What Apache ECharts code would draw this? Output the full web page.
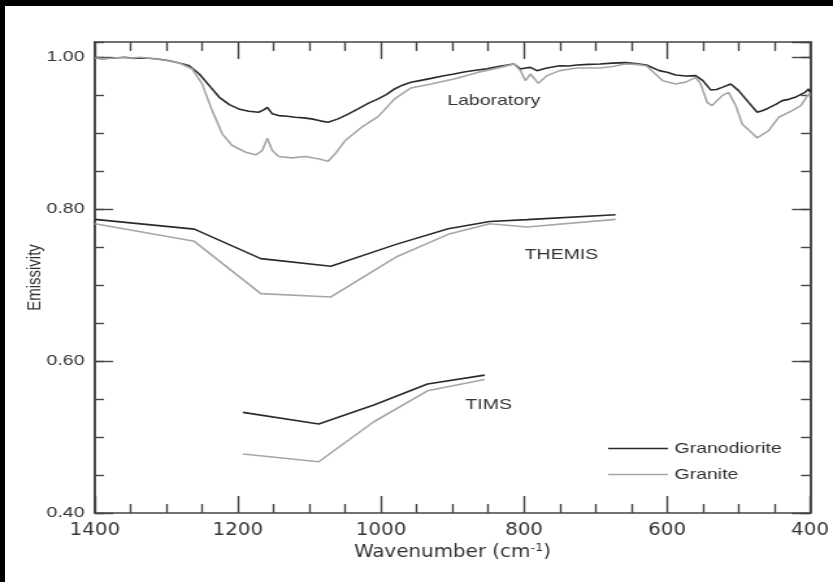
<!DOCTYPE html>
<html>
<head>
<meta charset="utf-8">
<script src="https://cdn.jsdelivr.net/npm/echarts@6/dist/echarts.min.js"></script>
<style>
  html, body { margin:0; padding:0; background:#000; width:833px; height:582px; overflow:hidden; }
  #paper { position:absolute; left:5px; top:6px; right:0; bottom:0; background:#fff; }
  #chart { position:absolute; left:0; top:0; width:641px; height:582px; transform-origin:0 0; transform:scaleX(1.2995); }
</style>
</head>
<body>
<div id="paper"></div>
<div id="chart"></div>
<script>
// ---- Laboratory spectra ----
const labWaveGrd = [1400,1390,1379,1368,1358,1348,1338,1324,1310,1296,1282,1268,1254,1240,1226,1212,1199,1185,1171,1164,1159,1152,1143,1131,1120,1108,1097,1085,1074,1060,1046,1032,1018,1004,992,981,970,958,944,930,914,898,882,865,852,838,826,814,805,798,791,782,768,750,738,726,710,694,676,659,644,629,611,600,588,574,560,550,539,531,523,511,500,486,474,466,458,448,439,430,421,413,407,402,400];
const labEmisGrd = [0.999,0.998,0.9987,0.9992,1.000,0.9985,0.999,0.9987,0.9974,0.9954,0.9924,0.9888,0.9779,0.9625,0.9472,0.9376,0.9319,0.9288,0.9275,0.9306,0.934,0.9254,0.9231,0.9222,0.9209,0.9201,0.9188,0.9162,0.9143,0.9188,0.925,0.9319,0.9392,0.9451,0.951,0.9582,0.9632,0.9669,0.9695,0.9721,0.9752,0.9779,0.9808,0.9832,0.9846,0.9875,0.9892,0.9911,0.9845,0.9858,0.9866,0.9823,0.9858,0.9888,0.9885,0.9898,0.9905,0.9911,0.9922,0.9928,0.9915,0.9898,0.9823,0.9801,0.9766,0.9752,0.9757,0.9691,0.9569,0.9575,0.9603,0.9648,0.956,0.9406,0.9275,0.9298,0.9332,0.9378,0.9428,0.9445,0.9472,0.951,0.9537,0.9582,0.9537];
const labWaveGra = [1400,1390,1379,1368,1358,1348,1338,1324,1310,1296,1282,1264,1250,1236,1222,1208,1189,1175,1166,1159,1152,1143,1125,1106,1088,1074,1064,1050,1027,1004,981,958,930,898,865,833,814,805,798,791,780,768,750,726,694,676,659,644,629,606,588,574,560,553,544,537,523,514,504,495,474,458,444,425,413,402,400];
const labEmisGra = [0.999,0.9982,0.9987,0.9993,0.9993,0.9986,1.000,0.9985,0.997,0.995,0.9924,0.9845,0.9648,0.9297,0.8991,0.8837,0.8749,0.8715,0.8771,0.8933,0.8771,0.8693,0.8675,0.8693,0.8662,0.8631,0.8728,0.8903,0.9078,0.9218,0.9451,0.9595,0.9648,0.9714,0.98,0.9866,0.9911,0.9823,0.9691,0.9779,0.9656,0.9757,0.9823,0.9858,0.9858,0.9878,0.9911,0.9905,0.9888,0.9691,0.9648,0.9672,0.9735,0.9648,0.9406,0.9363,0.9494,0.9537,0.9363,0.9122,0.8938,0.9034,0.9209,0.9297,0.9362,0.9516,0.9494];
// ---- THEMIS ----
const themisWave = [1400,1261,1168,1070,979,906,848,796,672];
const themisEmisGrd = [0.7865,0.7737,0.7348,0.7247,0.7536,0.7742,0.7838,0.7862,0.7926];
const themisEmisGra = [0.7808,0.7576,0.6888,0.6844,0.7369,0.7668,0.7808,0.7764,0.7865];
// ---- TIMS ----
const timsWave = [1193,1087,1010,935,855];
const timsEmisGrd = [0.5325,0.5171,0.5421,0.5697,0.5815];
const timsEmisGra = [0.4777,0.4675,0.5201,0.5608,0.5758];
// ---- axes ----
const xMin = 400, xMax = 1400, xStep = 200;
const yMin = 0.40, yMax = 1.02, yStep = 0.2, yMinorStep = 0.05;
const seriesNames = ['Granodiorite', 'Granite'];
const sectionLabels = ['Laboratory', 'THEMIS', 'TIMS'];

const zip = (a, b) => a.map((v, i) => [v, b[i]]);
const DARK = '#2a2a2a', GRAY = '#a6a6a6', AX = '#444';
const SANS = '"Liberation Sans", Arial, Helvetica, sans-serif';
const NARROW = '"Liberation Sans Narrow", "DejaVu Sans Condensed", sans-serif';

function line(name, data, color) {
  return { type:'line', name, data, symbol:'none', xAxisIndex:0, yAxisIndex:0,
    lineStyle:{ color, width:1.6 }, itemStyle:{ color }, animation:false, z:3 };
}

const axLine = { show:true, lineStyle:{ color:AX, width:1.6 } };
function yAx(pos, step, len, labels) {
  return { type:'value', position:pos, min:yMin, max:yMax, interval:step,
    axisLine: axLine, axisTick:{ show:true, inside:true, length:len, lineStyle:{ color:AX, width:1.4 } },
    axisLabel: labels ? { show:true, formatter:v => v.toFixed(2), showMaxLabel:false, margin:8, fontSize:15, color:'#333', fontFamily:SANS } : { show:false },
    splitLine:{ show:false } };
}
function xAx(pos, labels) {
  const a = { type:'value', position:pos, min:xMin, max:xMax, interval:xStep, inverse:true,
    axisLine: axLine,
    axisTick:{ show:true, inside:true, length:17, lineStyle:{ color:AX, width:1.4 } },
    minorTick:{ show:true, splitNumber:4, length:9, lineStyle:{ color:AX, width:1.4 } },
    axisLabel: labels ? { show:true, formatter:v => String(v), margin:9, fontSize:17, color:'#333', fontFamily:NARROW } : { show:false },
    splitLine:{ show:false } };
  if (labels) {
    a.name = 'Wavenumber (cm{sup|-1})';
    a.nameLocation = 'middle';
    a.nameGap = 30;
    a.nameMoveOverlap = false;
    a.nameTextStyle = { fontSize:17, color:'#333', fontFamily:NARROW,
      rich:{ sup:{ fontSize:11, color:'#333', fontFamily:NARROW, verticalAlign:'top', padding:[0,0,9,0] } } };
  }
  return a;
}

const yLeftMajor = yAx('left', yStep, 14, true);
yLeftMajor.name = 'Emissivity';
yLeftMajor.nameLocation = 'middle';
yLeftMajor.nameGap = 39;
yLeftMajor.nameMoveOverlap = false;
yLeftMajor.nameTextStyle = { fontSize:15, color:'#333', fontFamily:SANS };

// legend icon: a thin bar across the item box (tiny corner dots fix the box size)
const LEG_ICON = 'path://M0,0H0.01V0.01H0Z M0,6.2H46V7.8H0Z M45.99,13.99H46V14H45.99Z';

const chart = echarts.init(document.getElementById('chart'), null, { renderer:'canvas' });
chart.setOption({
  animation:false,
  backgroundColor:'transparent',
  grid:{ left:73, right:14, top:42, bottom:69 },
  xAxis:[ xAx('bottom', true), xAx('top', false) ],
  yAxis:[ yLeftMajor, yAx('left', yMinorStep, 7, false), yAx('right', yStep, 14, false), yAx('right', yMinorStep, 7, false) ],
  legend:{ data:seriesNames, orient:'vertical', left:468, top:441, padding:0, icon:LEG_ICON,
    itemWidth:46, itemHeight:14, itemGap:11,
    textStyle:{ fontSize:15, color:'#333', fontFamily:SANS } },
  series:[
    line(seriesNames[0], zip(labWaveGrd, labEmisGrd), DARK),
    line(seriesNames[1], zip(labWaveGra, labEmisGra), GRAY),
    line(seriesNames[0], zip(themisWave, themisEmisGrd), DARK),
    line(seriesNames[1], zip(themisWave, themisEmisGra), GRAY),
    line(seriesNames[0], zip(timsWave, timsEmisGrd), DARK),
    line(seriesNames[1], zip(timsWave, timsEmisGra), GRAY)
  ],
  graphic:[
    { type:'text', x:380, y:101, style:{ text:sectionLabels[0], fontSize:15, fill:'#333', fontFamily:SANS, align:'center', verticalAlign:'middle' } },
    { type:'text', x:432, y:255, style:{ text:sectionLabels[1], fontSize:15, fill:'#333', fontFamily:SANS, align:'center', verticalAlign:'middle' } },
    { type:'text', x:376, y:405, style:{ text:sectionLabels[2], fontSize:15, fill:'#333', fontFamily:SANS, align:'center', verticalAlign:'middle' } }
  ]
});
</script>
</body>
</html>
